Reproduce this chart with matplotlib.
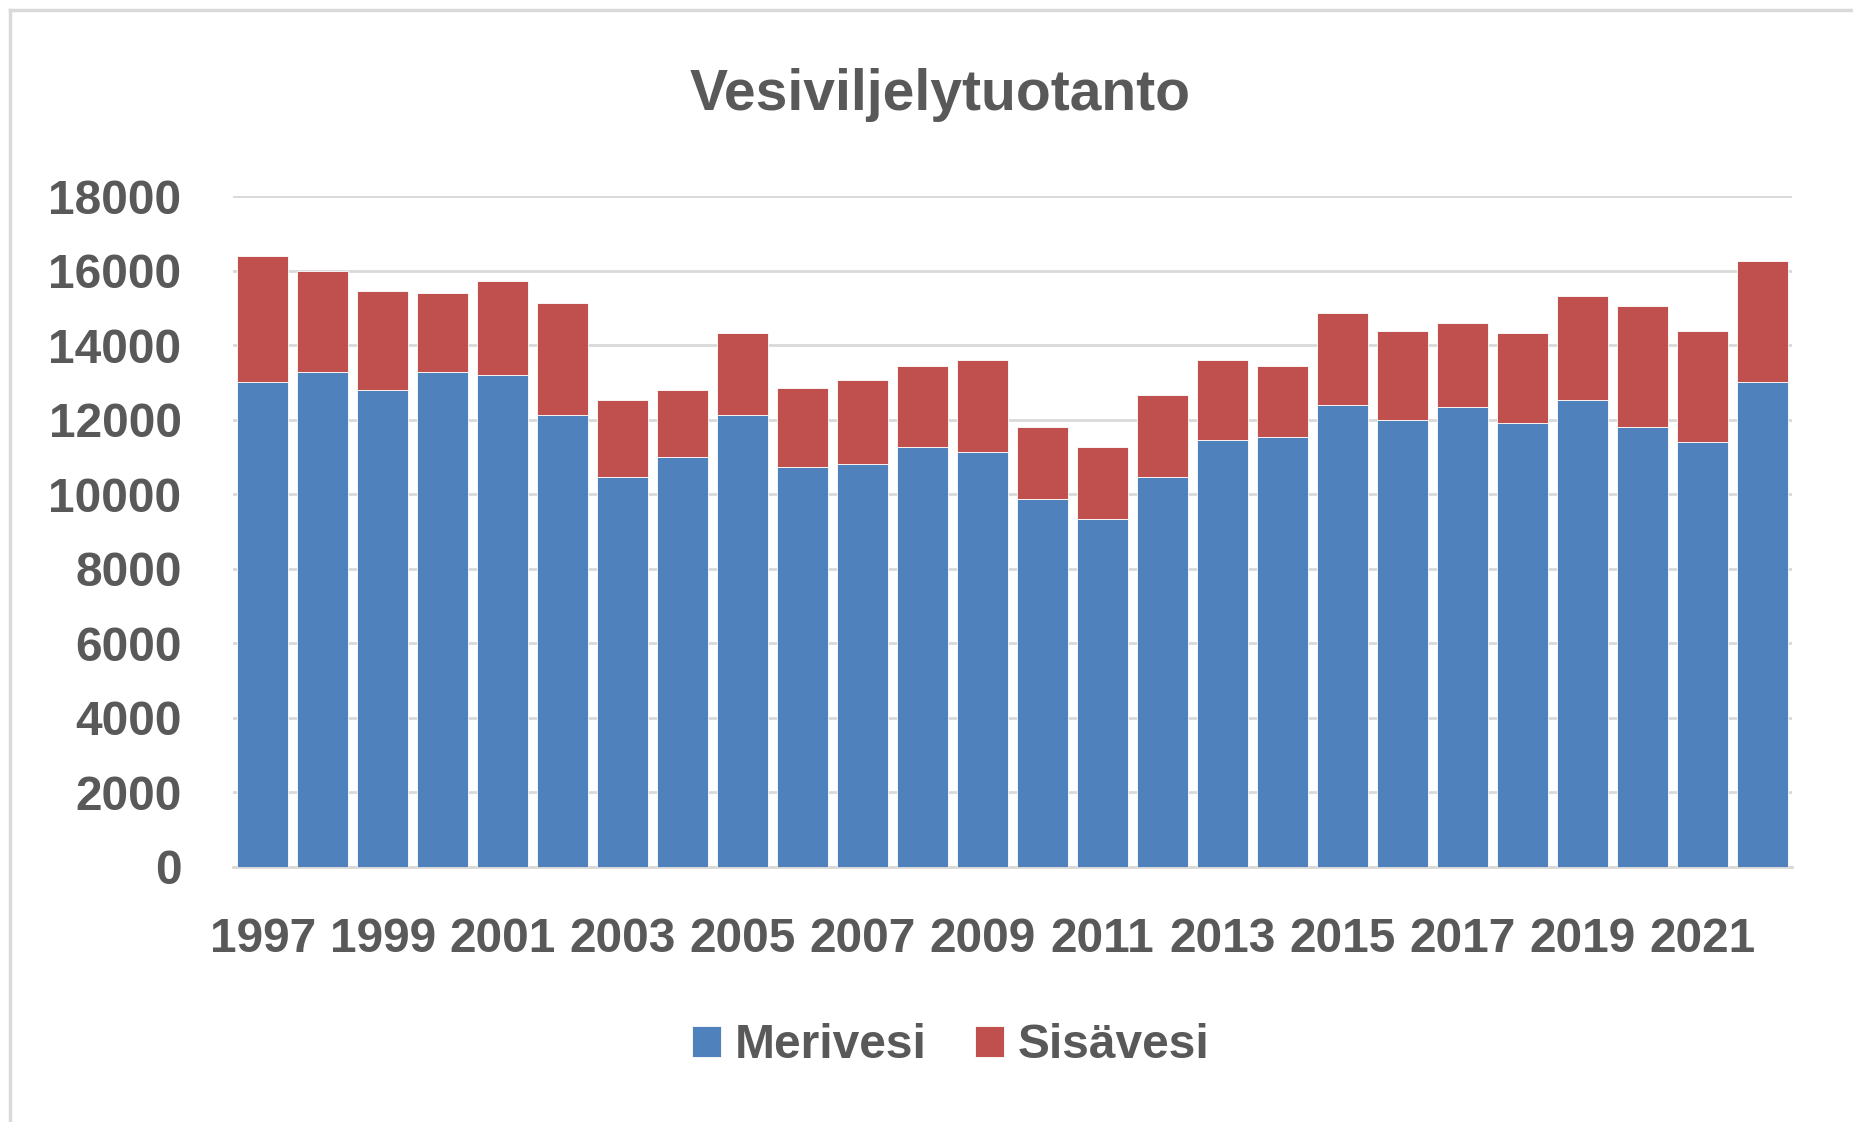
import numpy as np
import matplotlib
matplotlib.use("Agg")
import matplotlib.pyplot as plt
from matplotlib.lines import Line2D

years = list(range(1997, 2023))
merivesi = [13000, 13270, 12800, 13270, 13190, 12130, 10470, 10990, 12130, 10730,
            10800, 11260, 11130, 9870, 9340, 10470, 11460, 11530, 12390, 12000,
            12330, 11920, 12530, 11800, 11400, 13000]
total = [16390, 15990, 15450, 15390, 15720, 15130, 12530, 12800, 14320, 12860,
         13060, 13450, 13590, 11800, 11270, 12660, 13590, 13450, 14860, 14390,
         14590, 14320, 15320, 15060, 14390, 16260]
sisavesi = [t - m for t, m in zip(total, merivesi)]
yticks = [0, 2000, 4000, 6000, 8000, 10000, 12000, 14000, 16000, 18000]

blue = "#4F81BD"
red = "#C0504D"
txt = "#595959"
grid = "#D9D9D9"

plt.rcParams['font.family'] = ['Liberation Sans', 'DejaVu Sans']
plt.rcParams['font.weight'] = 'bold'

fig = plt.figure(figsize=(18.53, 11.22), dpi=100)
ax = fig.add_axes([233 / 1853, 1 - 867 / 1122, (1792 - 233) / 1853, (867 - 196) / 1122])

x = np.arange(len(years))
ax.bar(x, merivesi, width=0.85, color=blue, edgecolor="white", linewidth=0.6,
       label="Merivesi", zorder=3)
ax.bar(x, sisavesi, bottom=merivesi, width=0.85, color=red, edgecolor="white",
       linewidth=0.6, label="Sisävesi", zorder=3)

ax.set_xlim(-0.5, len(years) - 0.5)
ax.set_ylim(0, 18000)
ax.set_yticks(yticks)
ax.set_yticklabels([str(v) for v in yticks])
ax.set_xticks(x[::2])
ax.set_xticklabels([str(y) for y in years[::2]])
ax.yaxis.grid(True, color=grid, linewidth=2, zorder=0)
ax.set_axisbelow(True)
for s in ["top", "right", "left"]:
    ax.spines[s].set_visible(False)
ax.spines["bottom"].set_color(grid)
ax.spines["bottom"].set_linewidth(2)
ax.tick_params(axis="both", length=0, labelsize=34.5, labelcolor=txt)
ax.tick_params(axis="y", pad=37)
ax.tick_params(axis="x", pad=36)

fig.text(940 / 1853, 1 - 95 / 1122, "Vesiviljelytuotanto", ha="center", va="center",
         fontsize=41, color=txt, fontweight="bold")

fig.legend(loc="center", bbox_to_anchor=(951 / 1853, 1 - 1046 / 1122), ncol=2,
           frameon=False, fontsize=34.5, labelcolor=txt, handlelength=0.6,
           handleheight=0.6, handletextpad=0.3, columnspacing=1.0)

# chart frame (left and top edges visible)
fig.add_artist(Line2D([10 / 1853, 10 / 1853], [0, 1 - 10 / 1122], color=grid, linewidth=2.5))
fig.add_artist(Line2D([10 / 1853, 1], [1 - 10 / 1122, 1 - 10 / 1122], color=grid, linewidth=2.5))

fig.savefig("out.png", dpi=100, facecolor="white")
